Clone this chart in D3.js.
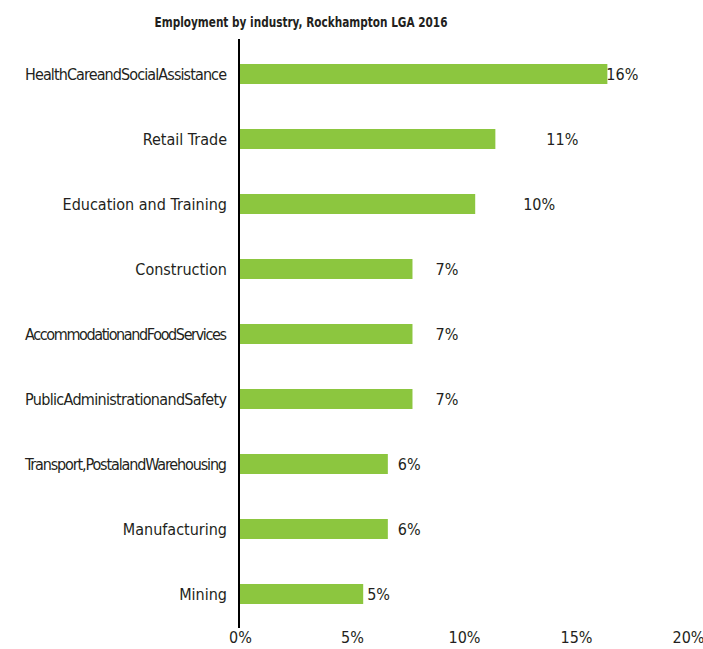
<!DOCTYPE html>
<html>
<head>
<meta charset="utf-8">
<script src="https://cdn.jsdelivr.net/npm/d3@7"></script>
<style>
  html, body { margin: 0; padding: 0; background: #fff; }
  text { font-family: "DejaVu Sans Condensed", "Liberation Sans Narrow", sans-serif; fill: #231f20; }
</style>
</head>
<body>
<svg id="chart" width="703" height="649"></svg>
<script>
const title = "Employment by industry, Rockhampton LGA 2016";
const categories = [
  "HealthCareandSocialAssistance",
  "Retail Trade",
  "Education and Training",
  "Construction",
  "AccommodationandFoodServices",
  "PublicAdministrationandSafety",
  "Transport,PostalandWarehousing",
  "Manufacturing",
  "Mining"
];
const values = [16.4, 11.4, 10.5, 7.7, 7.7, 7.7, 6.6, 6.6, 5.5];
const valueLabels = ["16%", "11%", "10%", "7%", "7%", "7%", "6%", "6%", "5%"];
const tickValues = [0, 5, 10, 15, 20];
const tickLabels = ["0%", "5%", "10%", "15%", "20%"];

// layout (label offsets from bar end, in px)
const labelGap = [-1, 51, 48, 23, 23, 23, 10, 10, 4];

const svg = d3.select("#chart");

const x = d3.scaleLinear().domain([0, 20]).range([240, 688]);
const y = d3.scaleBand().domain(categories).range([41.5, 626.5])
  .paddingInner(0.6923).paddingOuter(0.3462);

function fit(sel, maxW, mode) {
  sel.each(function() {
    const w = this.getComputedTextLength();
    if (w > maxW) {
      d3.select(this).attr("textLength", maxW).attr("lengthAdjust", mode);
    }
  });
}

// title
svg.append("text")
  .attr("x", 301).attr("y", 27)
  .attr("text-anchor", "middle")
  .attr("font-weight", "bold")
  .attr("font-size", 14)
  .text(title)
  .call(fit, 293, "spacingAndGlyphs");

// bars
svg.selectAll("rect.bar").data(values).enter().append("rect")
  .attr("class", "bar")
  .attr("x", x(0))
  .attr("y", (d, i) => y(categories[i]))
  .attr("width", d => x(d) - x(0))
  .attr("height", y.bandwidth())
  .attr("fill", "#8cc63f");

// value labels
svg.selectAll("text.val").data(values).enter().append("text")
  .attr("class", "val")
  .attr("x", (d, i) => x(d) + labelGap[i])
  .attr("y", (d, i) => y(categories[i]) + y.bandwidth() / 2)
  .attr("dy", "0.36em")
  .attr("font-size", 16)
  .text((d, i) => valueLabels[i]);

// category labels
svg.selectAll("text.cat").data(categories).enter().append("text")
  .attr("class", "cat")
  .attr("x", 227)
  .attr("y", d => y(d) + y.bandwidth() / 2)
  .attr("dy", "0.36em")
  .attr("text-anchor", "end")
  .attr("font-size", 16)
  .text(d => d)
  .call(fit, 202, "spacing");

// vertical axis line
svg.append("line")
  .attr("x1", 239).attr("x2", 239)
  .attr("y1", 39).attr("y2", 628)
  .attr("stroke", "#000").attr("stroke-width", 2);

// x axis tick labels
const xAxis = d3.axisBottom(x).tickValues(tickValues)
  .tickFormat((d, i) => tickLabels[i]).tickSize(0).tickPadding(0);
const gx = svg.append("g").attr("transform", "translate(0,628)").call(xAxis);
gx.select(".domain").remove();
gx.selectAll("text")
  .attr("font-size", 16)
  .attr("y", 4)
  .attr("dy", "0.71em")
  .style("font-family", "\"DejaVu Sans Condensed\", sans-serif")
  .attr("fill", "#231f20");
</script>
</body>
</html>
